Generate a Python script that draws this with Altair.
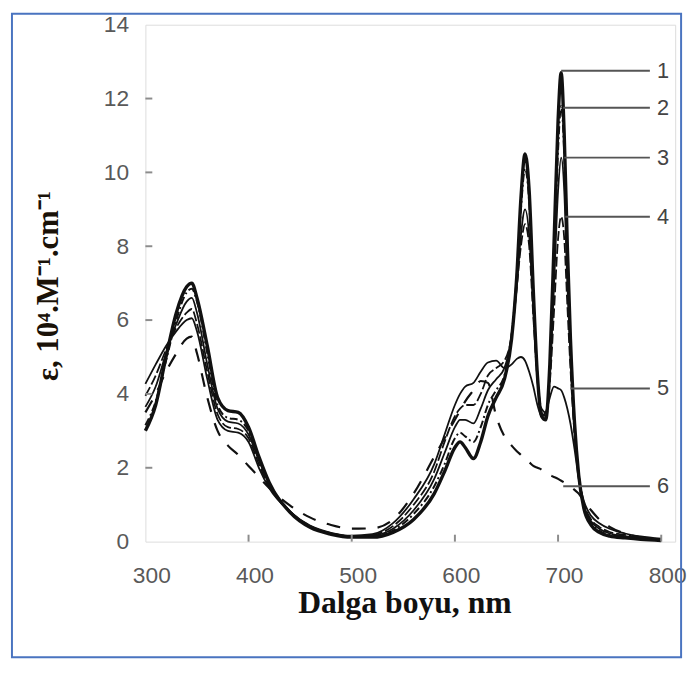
import altair as alt
import pandas as pd

# ---------------- data ----------------
wavelength = [300, 310, 320, 330, 340, 345, 350, 360, 370, 380, 390, 400, 410, 420, 440,
              460, 480, 500, 520, 540, 560, 580, 590, 600, 605, 610, 618, 625, 632, 640,
              648, 655, 660, 664, 668, 672, 676, 680, 684, 688, 692, 696, 700, 703, 706,
              709, 712, 716, 720, 725, 732, 740, 750, 765, 780, 800]

eps_1 = [3.0, 3.7, 5.0, 6.2, 6.9, 7.0, 6.6, 5.3, 3.9, 3.55, 3.5, 3.1, 2.3, 1.6, 0.8,
         0.38, 0.2, 0.12, 0.12, 0.25, 0.6, 1.3, 1.9, 2.55, 2.7, 2.55, 2.25, 2.7, 3.4, 3.9,
         4.4, 5.5, 7.2, 9.3, 10.5, 9.5, 6.8, 4.5, 3.4, 3.3, 4.8, 8.0, 11.4, 12.7, 11.0,
         8.0, 5.5, 3.2, 1.8, 0.9, 0.45, 0.25, 0.15, 0.1, 0.06, 0.03]

eps_2 = [3.15, 3.8, 4.9, 6.0, 6.75, 6.85, 6.5, 5.1, 3.7, 3.35, 3.3, 3.0, 2.25, 1.6, 0.82,
         0.4, 0.21, 0.13, 0.14, 0.3, 0.75, 1.5, 2.1, 2.8, 2.95, 2.85, 2.7, 3.1, 3.7, 4.1,
         4.5, 5.6, 7.2, 9.0, 10.1, 9.2, 6.7, 4.5, 3.4, 3.3, 4.6, 7.5, 10.6, 11.8, 10.5,
         7.6, 5.3, 3.1, 1.8, 0.95, 0.5, 0.3, 0.18, 0.12, 0.08, 0.04]

eps_3 = [3.65, 4.2, 5.1, 5.9, 6.5, 6.6, 6.2, 4.8, 3.6, 3.25, 3.2, 2.9, 2.2, 1.55, 0.82,
         0.41, 0.22, 0.14, 0.16, 0.35, 0.85, 1.7, 2.4, 3.1, 3.3, 3.3, 3.2, 3.6, 4.1, 4.4,
         4.7, 5.6, 6.9, 8.3, 9.0, 8.3, 6.3, 4.4, 3.5, 3.4, 4.5, 6.9, 9.5, 10.4, 9.5,
         7.0, 5.0, 3.0, 1.8, 1.0, 0.55, 0.35, 0.22, 0.15, 0.1, 0.05]

eps_4 = [3.95, 4.5, 5.2, 5.8, 6.2, 6.3, 5.9, 4.6, 3.45, 3.1, 3.05, 2.8, 2.1, 1.5, 0.82,
         0.42, 0.23, 0.15, 0.18, 0.42, 1.0, 1.9, 2.7, 3.4, 3.6, 3.7, 3.7, 4.0, 4.5, 4.7,
         4.9, 5.6, 6.9, 8.0, 8.6, 8.0, 6.1, 4.4, 3.6, 3.5, 4.3, 6.2, 8.2, 8.8, 8.2,
         6.4, 4.7, 2.9, 1.8, 1.05, 0.6, 0.4, 0.26, 0.18, 0.12, 0.06]

eps_5 = [4.27, 4.8, 5.3, 5.7, 6.0, 6.05, 5.7, 4.4, 3.3, 3.0, 2.95, 2.7, 2.0, 1.45, 0.82,
         0.43, 0.24, 0.16, 0.2, 0.5, 1.15, 2.1, 2.9, 3.7, 4.0, 4.2, 4.3, 4.6, 4.85, 4.9,
         4.7, 4.8, 4.95, 5.0, 4.9, 4.6, 4.2, 3.7, 3.4, 3.5, 3.9, 4.2, 4.15, 4.1, 3.9,
         3.6, 3.2, 2.5, 1.7, 1.1, 0.7, 0.5, 0.35, 0.22, 0.14, 0.08]

eps_6 = [3.5, 4.0, 4.6, 5.1, 5.5, 5.55, 5.1, 3.9, 3.0, 2.6, 2.35, 2.05, 1.75, 1.45, 0.98,
         0.65, 0.45, 0.35, 0.36, 0.6, 1.3, 2.3, 2.8, 3.3, 3.55, 3.8, 4.1, 4.35, 4.3, 3.4,
         2.85, 2.6, 2.45, 2.35, 2.25, 2.15, 2.05, 2.0, 1.95, 1.85, 1.8, 1.75, 1.7, 1.65, 1.6,
         1.55, 1.5, 1.4, 1.3, 1.1, 0.85, 0.6, 0.4, 0.22, 0.12, 0.05]

curve_names = ["1", "2", "3", "4", "5", "6"]
curve_values = [eps_1, eps_2, eps_3, eps_4, eps_5, eps_6]

label_y = [12.75, 11.75, 10.4, 8.8, 4.15, 1.5]
leader_start = [703, 705, 706, 707, 712, 705]
leader_end = [789, 789, 789, 789, 789, 789]
label_x = [796, 796, 796, 796, 796, 796]

x_ticks = [300, 400, 500, 600, 700, 800]
y_ticks = [0, 2, 4, 6, 8, 10, 12, 14]
x_max = 813.5   # the frame runs a little past the 800 tick

# ---------------- chart ----------------
W, H = 536, 523
xscale = alt.Scale(domain=[300, x_max], nice=False, zero=False)
yscale = alt.Scale(domain=[0, 14], nice=False, zero=True)

LABEL_FONT = "Liberation Sans"
TITLE_FONT = "Liberation Serif"

x_axis = alt.Axis(values=x_ticks, grid=False, domain=False, ticks=False,
                  labelFont=LABEL_FONT, labelFontSize=23, labelColor="#595959",
                  labelPadding=23, labelFlush=False, labelOffset=6, labelBound=False,
                  title="Dalga boyu, nm", titleFont=TITLE_FONT,
                  titleFontSize=32, titleFontWeight="bold", titleColor="#111111",
                  titleX=262, titleY=72, titleBaseline="alphabetic", titleAlign="center")
y_axis = alt.Axis(values=y_ticks, grid=False, domain=False, ticks=False,
                  labelFont=LABEL_FONT, labelFontSize=23, labelColor="#595959",
                  labelPadding=17, title="ε, 10⁴.M⁻¹.cm⁻¹", titleFont=TITLE_FONT,
                  titleFontSize=31, titleFontWeight="bold", titleColor="#1a1208",
                  titleX=-98, titleY=264, titleAngle=270, titleBaseline="middle",
                  titleAlign="center")


def X(field):
    return alt.X(field, scale=xscale, axis=x_axis)


def Y(field):
    return alt.Y(field, scale=yscale, axis=y_axis)


styles = {
    "1": dict(strokeWidth=3.4),
    "2": dict(strokeWidth=2.0, strokeDash=[8, 3, 2, 3]),
    "3": dict(strokeWidth=1.8),
    "4": dict(strokeWidth=1.8, strokeDash=[10, 3]),
    "5": dict(strokeWidth=1.8),
    "6": dict(strokeWidth=2.2, strokeDash=[14, 12]),
}

layers = []
for name, vals in zip(curve_names, curve_values):
    df = pd.DataFrame({"wl": wavelength, "eps": vals})
    layers.append(
        alt.Chart(df).mark_line(color="#111111", interpolate="monotone",
                                strokeJoin="round", **styles[name])
        .encode(x=X("wl:Q"), y=Y("eps:Q"))
    )

# inward ticks
ytick_df = pd.DataFrame({"v": y_ticks[1:-1]})
xtick_df = pd.DataFrame({"v": x_ticks[1:]})
yticks = alt.Chart(ytick_df).mark_rule(color="#8c8c8c", strokeWidth=2).encode(
    y=Y("v:Q"), x=alt.value(0), x2=alt.value(7))
xticks = alt.Chart(xtick_df).mark_rule(color="#8c8c8c", strokeWidth=2).encode(
    x=X("v:Q"), y=alt.value(H), y2=alt.value(H - 7))

# leaders and curve numbers
lab_df = pd.DataFrame({"name": curve_names, "y": label_y, "x0": leader_start,
                       "x1": leader_end, "lx": label_x})
leaders = alt.Chart(lab_df).mark_rule(color="#555555", strokeWidth=2).encode(
    x=X("x0:Q"), x2="x1:Q", y=Y("y:Q"))
numbers = alt.Chart(lab_df).mark_text(font=LABEL_FONT, fontSize=22, color="#444444",
                                      align="left", baseline="middle").encode(
    x=X("lx:Q"), y=Y("y:Q"), text="name:N")

# decorative blue outer frame
frame = alt.Chart(pd.DataFrame({"a": [0]})).mark_rect(
    filled=False, stroke="#4a74c0", strokeWidth=2).encode(
    x=alt.value(-135), x2=alt.value(542), y=alt.value(-11), y2=alt.value(640))

chart = alt.layer(*layers, yticks, xticks, leaders, numbers, frame).properties(
    width=W, height=H,
    padding={"left": 139, "top": 13, "right": 14, "bottom": 127},
    autosize=alt.AutoSizeParams(type="none"),
).configure_view(stroke="#8c8c8c", strokeWidth=2).configure(background="white")

chart.save("out.html", embed_options={"renderer": "svg", "actions": False})
